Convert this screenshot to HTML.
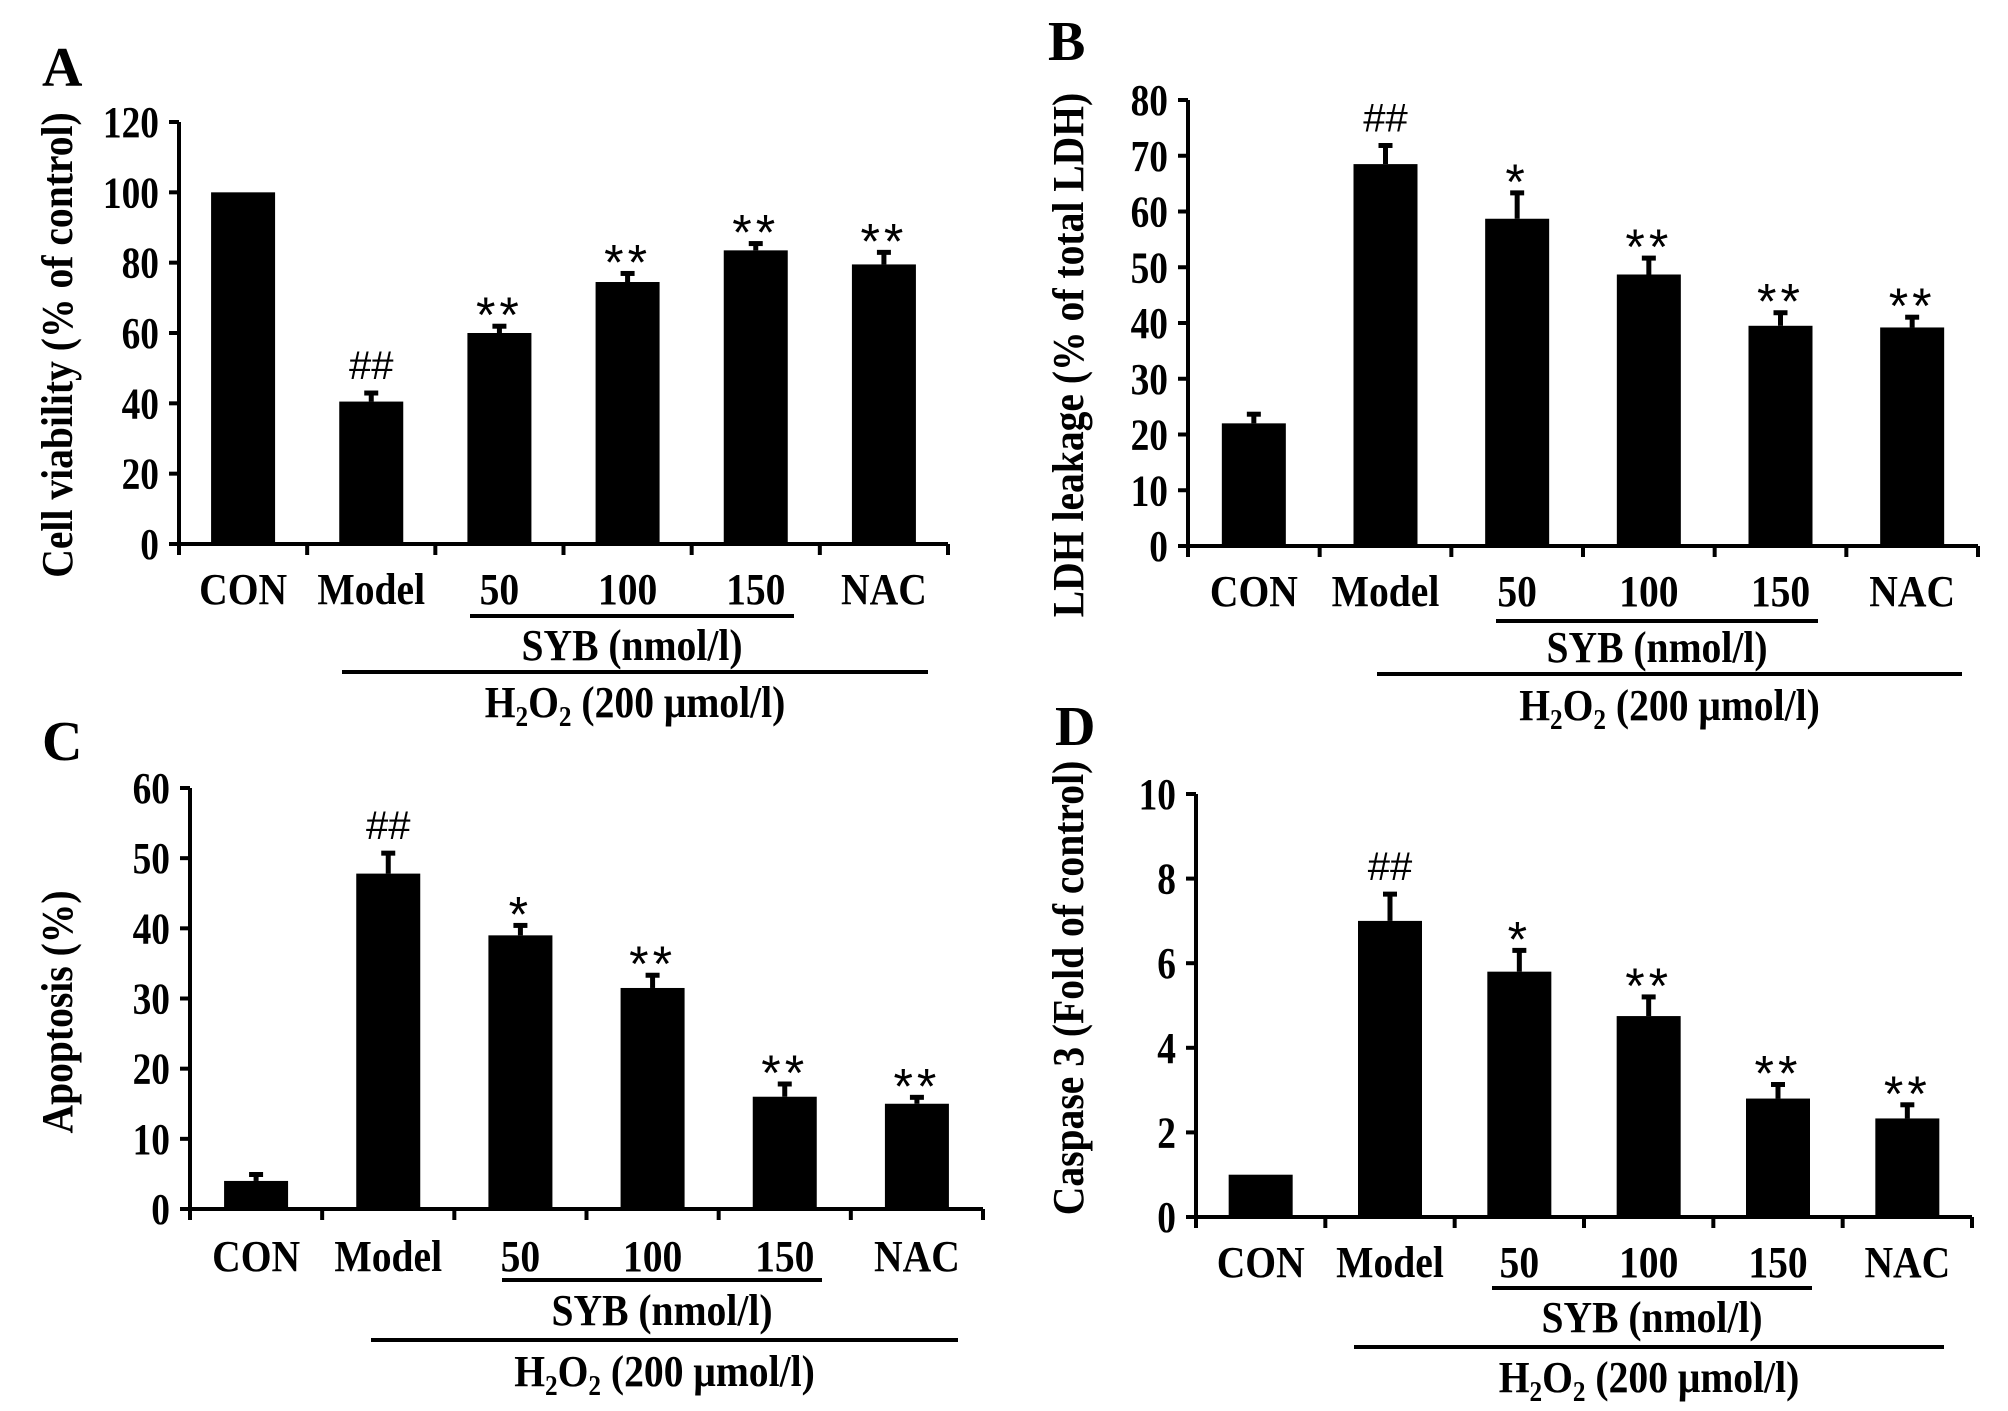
<!DOCTYPE html>
<html><head><meta charset="utf-8"><style>
html,body{margin:0;padding:0;background:#fff;}
svg{display:block;}
.t{font-family:"Liberation Serif",serif;font-weight:bold;fill:#000;}
.s{font-family:"Liberation Sans",sans-serif;fill:#000;}
</style></head><body>
<svg id="fig" width="2008" height="1411" viewBox="0 0 2008 1411" xmlns="http://www.w3.org/2000/svg"></svg>
<script>
const categories = ["CON","Model","50","100","150","NAC"];
const valuesA = [100, 40.5, 60, 74.5, 83.5, 79.5];
const errorsA = [0, 3, 2.5, 3, 2.5, 4];
const marksA = ["", "##", "**", "**", "**", "**"];
const ticksA = [0,20,40,60,80,100,120];
const valuesB = [22, 68.5, 58.7, 48.7, 39.5, 39.2];
const errorsB = [2, 3.7, 5, 3.3, 2.7, 2.2];
const marksB = ["", "##", "*", "**", "**", "**"];
const ticksB = [0,10,20,30,40,50,60,70,80];
const valuesC = [4, 47.8, 39, 31.5, 16, 15];
const errorsC = [1.2, 3.2, 1.7, 2.1, 2.1, 1.2];
const marksC = ["", "##", "*", "**", "**", "**"];
const ticksC = [0,10,20,30,40,50,60];
const valuesD = [1, 7, 5.8, 4.75, 2.8, 2.33];
const errorsD = [0, 0.68, 0.55, 0.5, 0.38, 0.37];
const marksD = ["", "##", "*", "**", "**", "**"];
const ticksD = [0,2,4,6,8,10];

const NS="http://www.w3.org/2000/svg";
const svg=document.getElementById('fig');
function el(tag,attrs,parent,text){const e=document.createElementNS(NS,tag);for(const k in attrs)e.setAttribute(k,attrs[k]);if(text!==undefined)e.textContent=text;(parent||svg).appendChild(e);return e;}
function txt(parent,x,y,str,size,anchor,sx,cls,rot){
 const tf=`translate(${x},${y})`+(rot?` rotate(${rot})`:'')+` scale(${sx},1)`;
 const t=el('text',{x:0,y:0,class:cls||'t','font-size':size,'text-anchor':anchor||'middle',transform:tf},parent,str);
 return t;
}

const panels=[
 {id:'a',letter:'A',lx:42,ly:86,x0:179,x1:948,y0:544,yTop:122,max:120,vals:valuesA,errs:errorsA,marks:marksA,ticks:ticksA,title:'Cell viability (% of control)',tx:58,tyc:345,labY:604,sybY:616,sybX:[470,794],sybTY:660,hY:672,hX:[342,928],hTY:717},
 {id:'b',letter:'B',lx:1048,ly:60,x0:1188,x1:1978,y0:546,yTop:100,max:80,vals:valuesB,errs:errorsB,marks:marksB,ticks:ticksB,title:'LDH leakage (% of total LDH)',tx:1069,tyc:355,labY:606,sybY:621,sybX:[1496,1818],sybTY:662,hY:674,hX:[1377,1962],hTY:720},
 {id:'c',letter:'C',lx:42,ly:760,x0:190,x1:983,y0:1209,yTop:788,max:60,vals:valuesC,errs:errorsC,marks:marksC,ticks:ticksC,title:'Apoptosis (%)',tx:58,tyc:1012,labY:1271,sybY:1280,sybX:[502,822],sybTY:1325,hY:1340,hX:[371,958],hTY:1386},
 {id:'d',letter:'D',lx:1055,ly:745,x0:1196,x1:1972,y0:1217,yTop:794,max:10,vals:valuesD,errs:errorsD,marks:marksD,ticks:ticksD,title:'Caspase 3 (Fold of control)',tx:1069,tyc:988,labY:1277,sybY:1288,sybX:[1492,1812],sybTY:1332,hY:1347,hX:[1354,1944],hTY:1392}
];

panels.forEach(p=>{
 const g=el('g',{});
 
 
 const yS=v=>p.y0-(v/p.max)*(p.y0-p.yTop);
 const n=categories.length;
 const step=(p.x1-p.x0)/n;
 const xC=i=>p.x0+step*(i+0.5);
 const bw=64;
 const L=el('text',{x:p.lx,y:p.ly,class:'t','font-size':56},g,p.letter);
 
 
 const ya=el('line',{x1:p.x0,y1:p.yTop,x2:p.x0,y2:p.y0,stroke:'#000','stroke-width':4},g);
 
 
 const xa=el('line',{x1:p.x0-8,y1:p.y0,x2:p.x1,y2:p.y0,stroke:'#000','stroke-width':4},g);
 
 
 p.ticks.forEach(t=>{
  const y=yS(t);
  el('line',{x1:p.x0-10,y1:y,x2:p.x0,y2:y,stroke:'#000','stroke-width':4},g);
  const tl=txt(g,p.x0-20,y+15,String(t),44,'end',0.85);
  
  
 });
 for(let i=0;i<=n;i++){const x=p.x0+step*i;el('line',{x1:x,y1:p.y0,x2:x,y2:p.y0+11,stroke:'#000','stroke-width':4},g);}
 const yt=txt(g,p.tx+14,p.tyc,p.title,44,'middle',0.9,'t',-90);
 
 
 p.vals.forEach((v,i)=>{
  const x=xC(i), y=yS(v);
  const r=el('rect',{x:x-bw/2,y:y,width:bw,height:p.y0-y,fill:'#000'},g);
  
  
  const e=p.errs[i];
  let top=y;
  if(e>0){
   const ye=yS(v+e); top=ye;
   const eb=el('line',{x1:x,y1:y,x2:x,y2:ye,stroke:'#000','stroke-width':5},g);
   
   
   el('line',{x1:x-7,y1:ye+2,x2:x+7,y2:ye+2,stroke:'#000','stroke-width':5},g);
  }
  if(p.marks[i]){
   const hash=p.marks[i][0]==='#';
   const m=el('text',{x:x,y:top-(hash?12:-8),class:'s','font-size':hash?40:50,'text-anchor':'middle','letter-spacing':hash?0:4},g,p.marks[i]);
   
   
  }
  const lb=txt(g,x,p.labY,categories[i],44,'middle',0.9);
  
  
 });
 el('line',{x1:p.sybX[0],y1:p.sybY,x2:p.sybX[1],y2:p.sybY,stroke:'#000','stroke-width':4},g);
 const st=txt(g,(p.sybX[0]+p.sybX[1])/2,p.sybTY,'SYB (nmol/l)',44,'middle',0.9);
 
 
 el('line',{x1:p.hX[0],y1:p.hY,x2:p.hX[1],y2:p.hY,stroke:'#000','stroke-width':4},g);
 const ht=txt(g,(p.hX[0]+p.hX[1])/2,p.hTY,'',44,'middle',0.9);
 
 
 ht.innerHTML='H<tspan font-size="28" dy="9">2</tspan><tspan dy="-9">O</tspan><tspan font-size="28" dy="9">2</tspan><tspan dy="-9"> (200 μmol/l)</tspan>';
});
</script>
</body></html>
